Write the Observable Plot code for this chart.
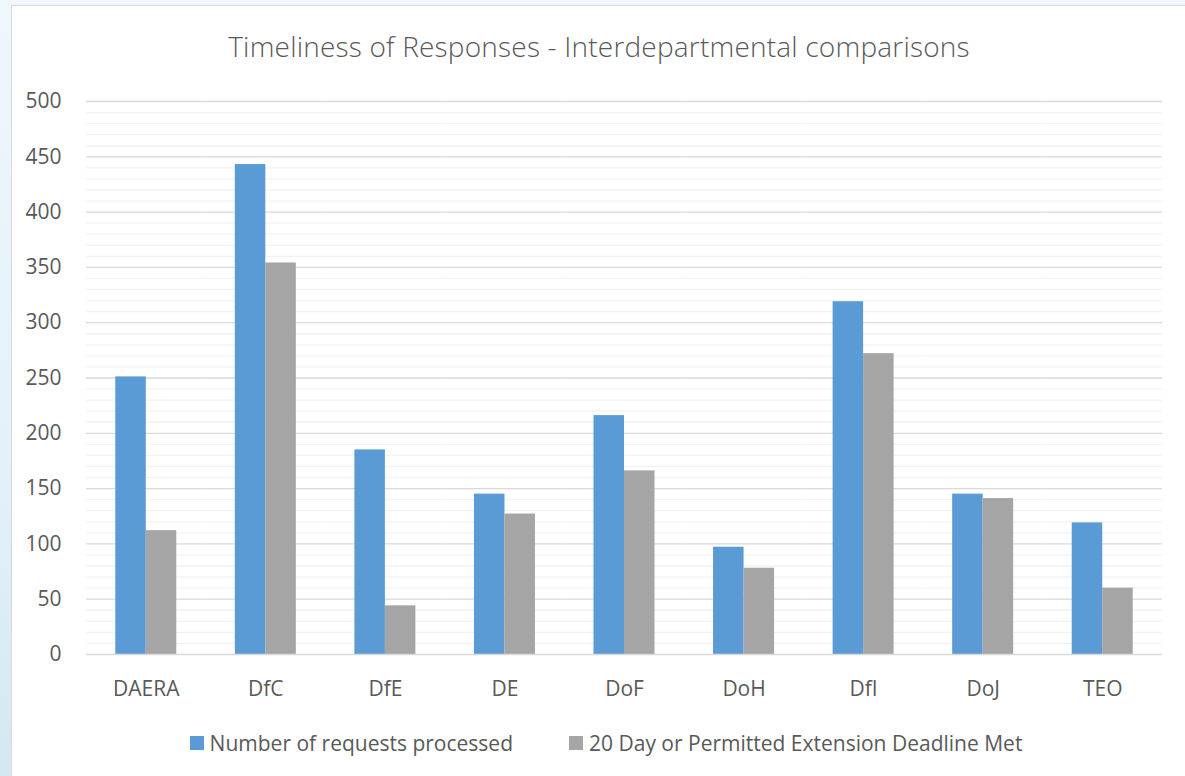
<!DOCTYPE html>
<html>
<head>
<meta charset="utf-8">
<script src="https://cdn.jsdelivr.net/npm/d3@7"></script>
<script src="https://cdn.jsdelivr.net/npm/@observablehq/plot@0.6"></script>
<style>
  html, body { margin: 0; padding: 0; }
  body {
    width: 1185px; height: 776px; overflow: hidden;
    background: linear-gradient(to bottom, #eef7fc 0%, #e3f1f9 60%, #d3e8f3 100%);
    font-family: "Open Sans", "Noto Sans", sans-serif;
    position: relative;
  }
  #panel {
    position: absolute; left: 11px; top: 5px; width: 1176px; height: 773px;
    background: #ffffff; border: 1px solid #d9d9d9; box-sizing: border-box;
  }
  #title {
    position: absolute; left: 0; top: 21px; width: 1174px; text-align: center;
    font-size: 28px; font-weight: 300; color: #595959; letter-spacing: 0.2px;
  }
  #chart { position: absolute; left: 0; top: 74px; }
  #legend {
    position: absolute; left: 7px; top: 723px; width: 1174px;
    display: flex; justify-content: center; gap: 56px;
    font-size: 21px; color: #595959;
  }
  .item { display: flex; align-items: center; }
  .sw { width: 14px; height: 14px; margin-right: 6px; }
</style>
</head>
<body>
<div id="panel">
  <div id="title">Timeliness of Responses - Interdepartmental comparisons</div>
  <div id="chart"></div>
  <div id="legend"></div>
</div>
<script>
const departments = ["DAERA", "DfC", "DfE", "DE", "DoF", "DoH", "DfI", "DoJ", "TEO"];
const seriesNames = ["Number of requests processed", "20 Day or Permitted Extension Deadline Met"];
const requestsProcessed = [251, 443, 185, 145, 216, 97, 319, 145, 119];
const deadlineMet = [112, 354, 44, 127, 166, 78, 272, 141, 60];
const seriesColors = ["#5b9bd5", "#a5a5a5"];
const majorTicks = [0, 50, 100, 150, 200, 250, 300, 350, 400, 450, 500];
const minorTicks = d3.range(0, 501, 10).filter(v => v % 50 !== 0);

const data = [];
departments.forEach((d, i) => {
  data.push({dept: d, series: seriesNames[0], value: requestsProcessed[i]});
  data.push({dept: d, series: seriesNames[1], value: deadlineMet[i]});
});

const chart = Plot.plot({
  width: 1174,
  height: 640,
  marginTop: 21,
  marginBottom: 66,
  marginLeft: 74,
  marginRight: 24,
  style: {fontFamily: "'Open Sans', sans-serif", fontSize: "21px", color: "#595959", background: "transparent"},
  fx: {domain: departments, padding: 0, round: false, label: null, axis: "bottom", tickSize: 0, tickPadding: 27},
  x: {domain: seriesNames, paddingInner: 0, paddingOuter: 0.96, round: false, axis: null},
  y: {domain: [0, 500], label: null, axis: null},
  color: {domain: seriesNames, range: seriesColors},
  marks: [
    Plot.ruleY(minorTicks, {stroke: "#f2f2f2", strokeWidth: 1.3}),
    Plot.ruleY(majorTicks.slice(1), {stroke: "#d9d9d9", strokeWidth: 1.3}),
    Plot.barY(data, {fx: "dept", x: "series", y: "value", fill: "series", inset: 0}),
    Plot.ruleY([0], {stroke: "#d9d9d9", strokeWidth: 1.5}),
    Plot.axisY(majorTicks, {tickSize: 0, tickPadding: 25, label: null, fill: "#595959", fontSize: 21})
  ]
});
document.getElementById("chart").appendChild(chart);

const legend = document.getElementById("legend");
seriesNames.forEach((s, i) => {
  const it = document.createElement("div");
  it.className = "item";
  const sw = document.createElement("div");
  sw.className = "sw";
  sw.style.background = seriesColors[i];
  const t = document.createElement("span");
  t.textContent = s;
  it.appendChild(sw); it.appendChild(t);
  legend.appendChild(it);
});
</script>
</body>
</html>
